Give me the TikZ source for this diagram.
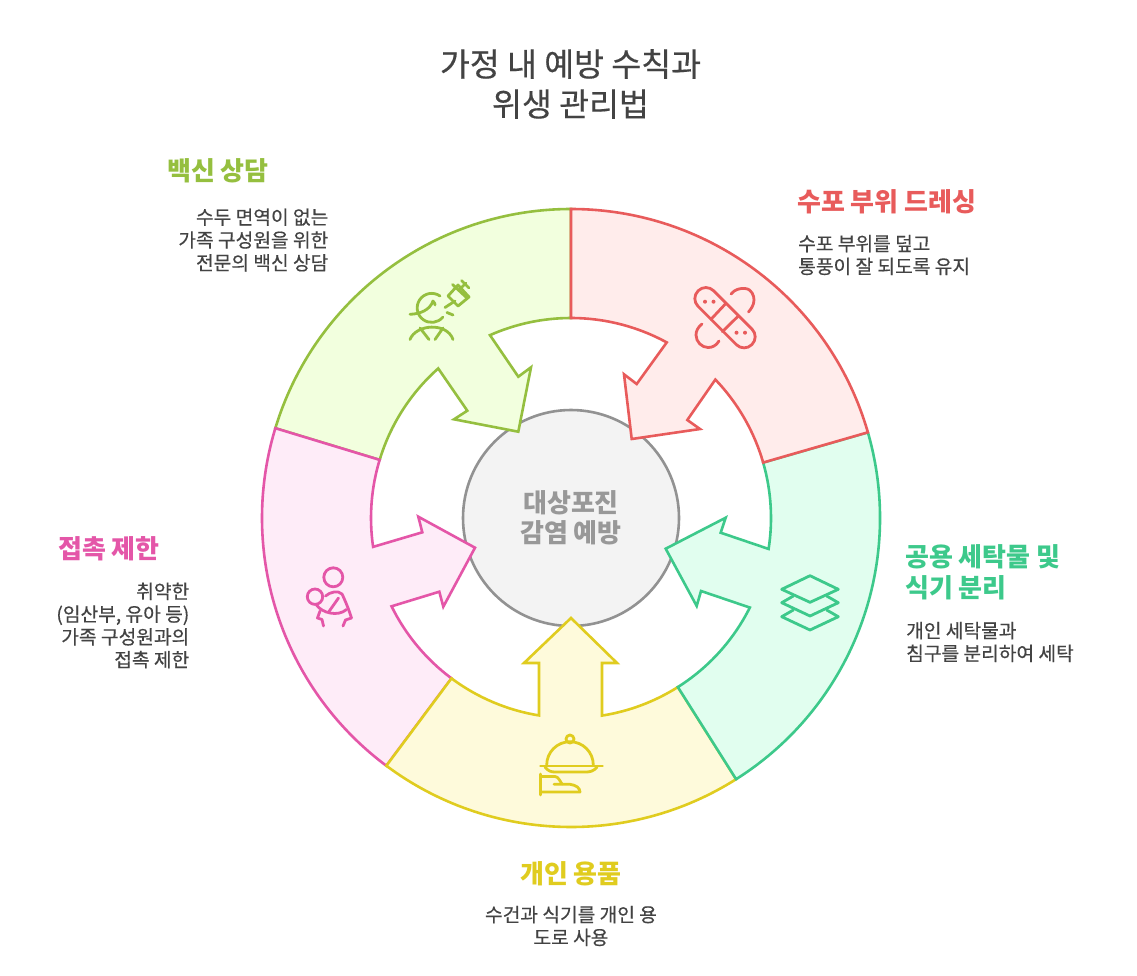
\documentclass[tikz,border=0pt]{standalone}
\usepackage{fontspec}
\setmainfont{Noto Sans CJK KR}
\newfontfamily\medf[FakeBold=0.4]{Noto Sans CJK KR}
\definecolor{redL}{HTML}{E85B5B}\definecolor{redF}{HTML}{FFECEB}
\definecolor{greenL}{HTML}{3DC98B}\definecolor{greenF}{HTML}{E1FEEF}
\definecolor{yelL}{HTML}{E0CC1F}\definecolor{yelF}{HTML}{FEFADB}
\definecolor{pinkL}{HTML}{E456A8}\definecolor{pinkF}{HTML}{FEECF8}
\definecolor{limeL}{HTML}{95BF3F}\definecolor{limeF}{HTML}{F2FFDE}
\definecolor{ink}{HTML}{434343}
\definecolor{midL}{HTML}{929292}\definecolor{midF}{HTML}{F3F3F3}\definecolor{midT}{HTML}{989898}
\tikzset{
  seg/.style={line width=2.6pt,line join=miter},
  ico/.style={line width=2.8pt,line cap=round,line join=round},
  ttl/.style={font=\medf\fontsize{32.5}{40}\selectfont,text=ink,align=center,inner sep=0pt},
  head/.style={font=\fontsize{26}{31}\bfseries\selectfont,inner sep=0pt},
  desc/.style={font=\medf\fontsize{19.2}{22.8}\selectfont,text=ink,inner sep=0pt},
}
\begin{document}
\begin{tikzpicture}[yscale=-1,x=1pt,y=1pt]
\useasboundingbox (0,0) rectangle (1137,975);
\fill[white] (0,0) rectangle (1137,975);
\coordinate (c) at (571,518);
% centre
\node[circle,minimum size=216pt,inner sep=0pt,line width=2.6pt,draw=midL,fill=midF] (hub) at (c) {};
% segments
\draw[seg,draw=limeL,fill=limeF] ([shift={(571,518)}]196.9:309) arc[start angle=196.9,end angle=270,radius=309]
  -- ([shift={(571,518)}]270:200) arc[start angle=270,end angle=246.1,radius=200]
  -- (518.3,376.7) -- (531,367.3) -- (518.3,431.7) -- (454,419.3) -- (467.3,410.7)
  -- ([shift={(571,518)}]228.4:200) arc[start angle=228.4,end angle=196.9,radius=200] -- cycle;
\draw[seg,draw=pinkL,fill=pinkF] ([shift={(571,518)}]126.7:309) arc[start angle=126.7,end angle=196.9,radius=309]
  -- ([shift={(571,518)}]196.9:200) arc[start angle=196.9,end angle=171.7,radius=200]
  -- (422.3,532.3) -- (418.3,516.7) -- (475,547.7) -- (443.3,606.7) -- (439.3,591.7)
  -- ([shift={(571,518)}]153.8:200) arc[start angle=153.8,end angle=126.7,radius=200] -- cycle;
\draw[seg,draw=yelL,fill=yelF] ([shift={(571,518)}]57.7:309) arc[start angle=57.7,end angle=126.7,radius=309]
  -- ([shift={(571,518)}]126.7:200) arc[start angle=126.7,end angle=99.2,radius=200]
  -- (539,663) -- (524,663) -- (571,618) -- (617,663) -- (602,663)
  -- ([shift={(571,518)}]81.1:200) arc[start angle=81.1,end angle=57.7,radius=200] -- cycle;
\draw[seg,draw=greenL,fill=greenF] ([shift={(571,518)}]-16.1:309) arc[start angle=-16.1,end angle=57.7,radius=309]
  -- ([shift={(571,518)}]57.7:200) arc[start angle=57.7,end angle=26.6,radius=200]
  -- (701,591) -- (696.7,606) -- (665.7,548.7) -- (725.7,517.7) -- (720.7,532.7)
  -- ([shift={(571,518)}]8.9:200) arc[start angle=8.9,end angle=-16.1,radius=200] -- cycle;
\draw[seg,draw=redL,fill=redF] ([shift={(571,518)}]-90:309) arc[start angle=-90,end angle=-16.1,radius=309]
  -- ([shift={(571,518)}]-16.1:200) arc[start angle=-16.1,end angle=-43.8,radius=200]
  -- (687.3,420) -- (700,429) -- (631.7,439) -- (624,374.3) -- (636.7,384)
  -- ([shift={(571,518)}]-61.4:200) arc[start angle=-61.4,end angle=-90,radius=200] -- cycle;
\node[inner sep=0pt,align=center,text=midT,font=\fontsize{26}{30}\bfseries\selectfont] (hubtext) at (571,518) {대상포진\\감염 예방};
% icons: lime
\begin{scope}[ico,draw=limeL]
\draw (440,296) arc[start angle=-55,end angle=-320,radius=14.5];
\draw (410,314.3) .. controls (420,314) and (430,310) .. (433,301) .. controls (435,303) and (435,304) .. (435,305);
\draw (447,312.5) -- (453,315);
\draw (455,301) -- (445,307.5);
\draw (448,296) -- (458,285) -- (469,297) -- (458,306) -- cycle;
\draw (452.5,284.5) -- (467,298);
\draw (459,290) -- (466,283);
\draw (461.5,280.5) -- (469,288);
\draw (410,339.5) .. controls (416,324) and (447,322) .. (453,339.5);
\draw (420,328) -- (429,339.5);
\draw (443,328) -- (435,339.5);
\end{scope}
% icons: red
\begin{scope}[ico,draw=redL]
\draw[shift={(725,317.7)},rotate=45,rounded corners=10.8pt] (-38,-11) rectangle (38,11);
\draw (711,319.3) -- (726,303.3);
\draw (722.3,331.7) -- (738.3,316);
\fill[redL] (705,301.7) circle (2) (713.5,301.7) circle (2) (736.5,332.7) circle (2) (745,332.7) circle (2);
\draw (731,294) .. controls (735,289) and (741,288) .. (745,288.5) .. controls (752,289) and (754,296) .. (754,300) .. controls (754,305) and (751,309) .. (748.5,312);
\draw (702,324) .. controls (698,327) and (696,331) .. (696,335) .. controls (696,342) and (702,347.5) .. (708,347.5) .. controls (712,347.5) and (716,346) .. (719,341);
\end{scope}
% icons: green
\begin{scope}[ico,draw=greenL]
\draw (810,575.7) -- (838.3,589.3) -- (810,602.3) -- (781.7,589.3) -- cycle;
\draw (793.3,596) -- (781.7,602.7) -- (810,616) -- (838.3,602.7) -- (826.7,596);
\draw (793.3,610) -- (781.7,616.7) -- (810,630) -- (838.3,616.7) -- (826.7,610);
\end{scope}
% icons: yellow
\begin{scope}[ico,draw=yelL]
\draw (570,739) circle (4);
\draw (546.7,765) arc[start angle=180,end angle=360,radius=23.3];
\draw (540.5,766) -- (602.5,766);
\draw (545,767) .. controls (548,771) and (551,772) .. (555,772) -- (586,772) .. controls (590,772) and (594,771) .. (597,767);
\draw (540.7,774) -- (540.7,795);
\draw (541,776.5) -- (555,776.5) .. controls (558,776.5) and (560,781) .. (562,784);
\draw (554,784.3) -- (570,784.3) .. controls (576,785) and (580,788) .. (580,792) -- (541,792);
\end{scope}
% icons: pink
\begin{scope}[ico,draw=pinkL]
\draw (333.3,577.3) circle (9.5);
\draw (315,596.7) circle (7.7);
\draw (325.5,596) .. controls (330,592) and (338,590) .. (342,594) .. controls (345,600) and (349,610) .. (351.5,618);
\draw (316.5,605) .. controls (322,613) and (338,617) .. (346.5,609.5);
\draw (329,611.5) -- (338.5,598);
\draw (320,611) -- (317.5,618) -- (322,619.5) -- (323.5,626);
\draw (351.5,618) -- (345.5,620) -- (343,626);
\end{scope}
% texts
\node[ttl] (title) at (570.5,84) {가정 내 예방 수칙과\\위생 관리법};
\node[head,text=limeL,anchor=west] (h1) at (167,171) {백신 상담};
\node[desc,anchor=east,align=right] (d1) at (328.5,240) {수두 면역이 없는\\가족 구성원을 위한\\전문의 백신 상담};
\node[head,text=redL,anchor=west] (h2) at (797,202) {수포 부위 드레싱};
\node[desc,anchor=west,align=left] (d2) at (798,255) {수포 부위를 덮고\\통풍이 잘 되도록 유지};
\node[head,text=greenL,anchor=west,align=left] (h3) at (905,572) {공용 세탁물 및\\식기 분리};
\node[desc,anchor=west,align=left] (d3) at (906,642) {개인 세탁물과\\침구를 분리하여 세탁};
\node[head,text=yelL] (h4) at (571,874) {개인 용품};
\node[desc,align=center] (d4) at (571,926) {수건과 식기를 개인 용\\도로 사용};
\node[head,text=pinkL,anchor=west] (h5) at (58,549) {접촉 제한};
\node[desc,anchor=east,align=right] (d5) at (189.5,625.5) {취약한\\(임산부, 유아 등)\\가족 구성원과의\\접촉 제한};
\end{tikzpicture}
\end{document}
